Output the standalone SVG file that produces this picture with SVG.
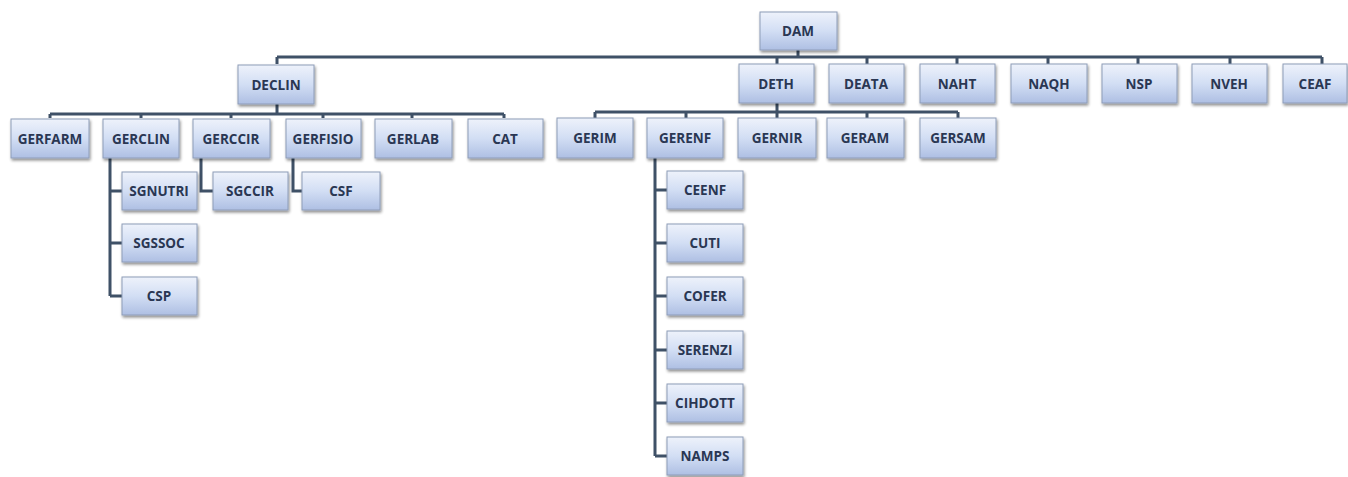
<svg xmlns="http://www.w3.org/2000/svg" width="1348" height="477" viewBox="0 0 1348 477">
<defs>
<linearGradient id="g" x1="0" y1="0" x2="0" y2="1">
<stop offset="0" stop-color="#eef2fb"/>
<stop offset="0.5" stop-color="#d2def4"/>
<stop offset="1" stop-color="#aebfe3"/>
</linearGradient>
<filter id="sh" x="-10%" y="-10%" width="125%" height="135%">
<feGaussianBlur in="SourceAlpha" stdDeviation="1.5"/>
<feOffset dx="1" dy="2" result="b"/>
<feComponentTransfer><feFuncA type="linear" slope="0.45"/></feComponentTransfer>
<feMerge><feMergeNode/><feMergeNode in="SourceGraphic"/></feMerge>
</filter>
</defs>
<style>
.n rect{fill:url(#g);stroke:#8e9db8;stroke-width:1;filter:url(#sh)}
.n text{font-family:"Open Sans","Liberation Sans",sans-serif;font-weight:bold;font-size:13.5px;fill:#2a3753;text-anchor:middle;dominant-baseline:central}
.c{fill:none;stroke:#3f5167;stroke-width:3}
</style>
<rect width="1348" height="477" fill="#ffffff"/>
<g id="connectors" class="c">
<path d="M798 50V57M277 57H1322M277 57V64M777 57V64M867 57V64M957 57V64M1048 57V64M1138 57V64M1230 57V64M1322 57V64"/>
<path d="M277 104V114M50 114H504M50 114V118M141 114V118M231 114V118M323 114V118M412 114V118M504 114V118"/>
<path d="M777 103V112M595 112H958M595 112V118M686 112V118M777 112V118M867 112V118M958 112V118"/>
<path d="M110 158V296M110 191H122M110 243H122M110 296H122"/>
<path d="M201 158V191H213"/>
<path d="M293 158V191H302"/>
<path d="M655 158V456M655 190H667M655 243H667M655 296H667M655 350H667M655 403H667M655 456H667"/>
</g>
<g id="DAM" class="n"><rect x="760" y="12" width="77" height="38"/><text x="798" y="31">DAM</text></g>
<g id="DECLIN" class="n"><rect x="238" y="65" width="76" height="39"/><text x="276" y="85">DECLIN</text></g>
<g id="DETH" class="n"><rect x="739" y="64" width="75" height="39"/><text x="776" y="84">DETH</text></g>
<g id="DEATA" class="n"><rect x="829" y="64" width="75" height="39"/><text x="866" y="84">DEATA</text></g>
<g id="NAHT" class="n"><rect x="920" y="64" width="75" height="39"/><text x="957" y="84">NAHT</text></g>
<g id="NAQH" class="n"><rect x="1011" y="64" width="76" height="39"/><text x="1049" y="84">NAQH</text></g>
<g id="NSP" class="n"><rect x="1102" y="64" width="75" height="39"/><text x="1139" y="84">NSP</text></g>
<g id="NVEH" class="n"><rect x="1192" y="64" width="75" height="39"/><text x="1229" y="84">NVEH</text></g>
<g id="CEAF" class="n"><rect x="1283" y="64" width="64" height="39"/><text x="1315" y="84">CEAF</text></g>
<g id="GERFARM" class="n"><rect x="11" y="119" width="78" height="39"/><text x="50" y="139">GERFARM</text></g>
<g id="GERCLIN" class="n"><rect x="103" y="119" width="76" height="39"/><text x="141" y="139">GERCLIN</text></g>
<g id="GERCCIR" class="n"><rect x="193" y="119" width="77" height="39"/><text x="231" y="139">GERCCIR</text></g>
<g id="GERFISIO" class="n"><rect x="286" y="119" width="75" height="39"/><text x="323" y="139">GERFISIO</text></g>
<g id="GERLAB" class="n"><rect x="375" y="119" width="77" height="39"/><text x="413" y="139">GERLAB</text></g>
<g id="CAT" class="n"><rect x="468" y="119" width="75" height="39"/><text x="505" y="139">CAT</text></g>
<g id="GERIM" class="n"><rect x="557" y="118" width="76" height="40"/><text x="595" y="138">GERIM</text></g>
<g id="GERENF" class="n"><rect x="647" y="118" width="76" height="40"/><text x="685" y="138">GERENF</text></g>
<g id="GERNIR" class="n"><rect x="738" y="118" width="78" height="40"/><text x="777" y="138">GERNIR</text></g>
<g id="GERAM" class="n"><rect x="827" y="118" width="77" height="40"/><text x="865" y="138">GERAM</text></g>
<g id="GERSAM" class="n"><rect x="920" y="118" width="76" height="40"/><text x="958" y="138">GERSAM</text></g>
<g id="SGNUTRI" class="n"><rect x="122" y="172" width="75" height="38"/><text x="159" y="191">SGNUTRI</text></g>
<g id="SGSSOC" class="n"><rect x="122" y="224" width="75" height="38"/><text x="159" y="243">SGSSOC</text></g>
<g id="CSP" class="n"><rect x="122" y="277" width="75" height="38"/><text x="159" y="296">CSP</text></g>
<g id="SGCCIR" class="n"><rect x="213" y="172" width="75" height="38"/><text x="250" y="191">SGCCIR</text></g>
<g id="CSF" class="n"><rect x="302" y="172" width="78" height="38"/><text x="341" y="191">CSF</text></g>
<g id="CEENF" class="n"><rect x="667" y="171" width="76" height="38"/><text x="705" y="190">CEENF</text></g>
<g id="CUTI" class="n"><rect x="667" y="224" width="76" height="38"/><text x="705" y="243">CUTI</text></g>
<g id="COFER" class="n"><rect x="667" y="277" width="76" height="38"/><text x="705" y="296">COFER</text></g>
<g id="SERENZI" class="n"><rect x="667" y="331" width="76" height="38"/><text x="705" y="350">SERENZI</text></g>
<g id="CIHDOTT" class="n"><rect x="667" y="384" width="76" height="38"/><text x="705" y="403">CIHDOTT</text></g>
<g id="NAMPS" class="n"><rect x="667" y="437" width="76" height="38"/><text x="705" y="456">NAMPS</text></g>
</svg>
